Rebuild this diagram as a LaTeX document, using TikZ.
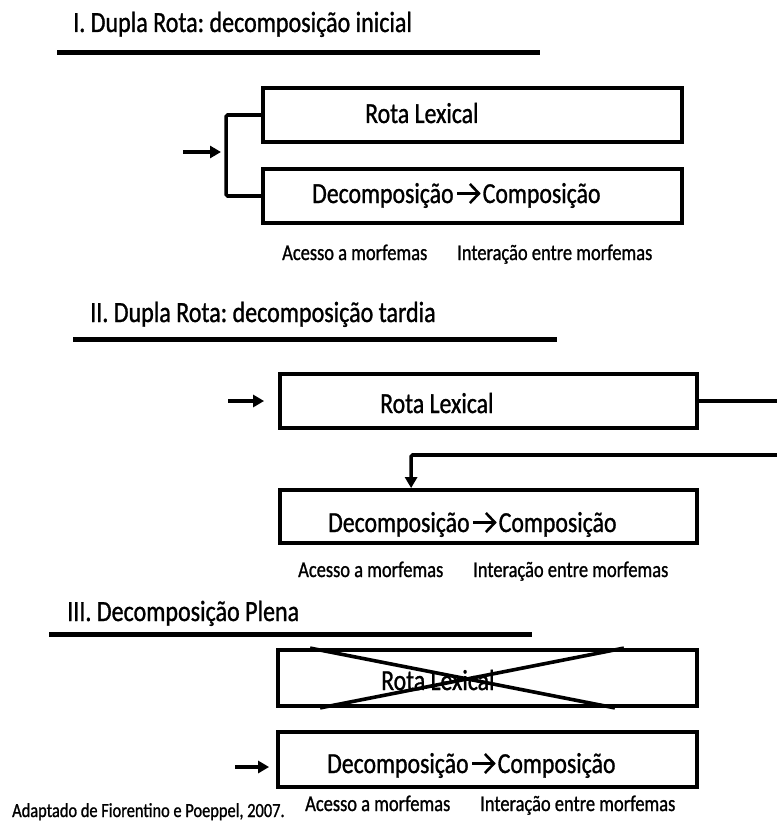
\documentclass[tikz,border=0pt]{standalone}
\usepackage{fontspec}
\setmainfont{Carlito}[FakeStretch=0.82, FakeBold=1]
\usetikzlibrary{arrows.meta,calc}
\frenchspacing

% chevron arrow used inside the box texts
\newcommand\morpharrow{\hspace{2.5pt}\tikz[baseline=-9.5pt]{%
  \draw[line width=2.6pt,line cap=butt] (0pt,0pt) -- (21pt,0pt);
  \draw[line width=2.6pt,line join=miter] (12.5pt,9.5pt) -- (21.5pt,0pt) -- (12.5pt,-9.5pt);}\hspace{2.5pt}}

\tikzset{
  box/.style={draw, line width=3.8pt, inner sep=0pt, minimum width=419, minimum height=54},
  boxtext/.style={anchor=base west, inner sep=0pt, font=\fontsize{29}{33}\selectfont},
  heading/.style={anchor=base west, inner sep=0pt, font=\fontsize{29.3}{33}\selectfont},
  note/.style={anchor=base west, inner sep=0pt, font=\fontsize{22.5}{26}\selectfont},
  credit/.style={anchor=base west, inner sep=0pt, font=\fontsize{20}{22}\selectfont},
  rule/.style={line width=5pt},
  conn/.style={line width=3.6pt, rounded corners=1.5pt},
  arr/.style={line width=3.6pt, rounded corners=1.5pt, -{Triangle[length=11pt,width=12pt]}},
  cross/.style={line width=3.6pt}
}

\begin{document}
\begin{tikzpicture}[x=1pt,y=-1pt]
\useasboundingbox (0,0) rectangle (776,821);
\fill[white] (0,0) rectangle (776,821);

% ---------- I. Dupla Rota: decomposicao inicial ----------
\node[heading] (hI) at (73,32) {I. Dupla Rota: decomposição inicial};
\coordinate (uIa) at (57,53);
\coordinate (uIb) at (540,53);
\draw[rule] (uIa) -- (uIb);

\node[box] (lexI) at (472.5,115) {};
\node[boxtext] (lexIt) at (365,123) {Rota Lexical};
\node[box] (decI) at (472.5,196) {};
\node[boxtext] (decIt) at (312,203) {Decomposição\morpharrow Composição};

\draw[conn] (lexI.west) -- ++(-35,0) |- (decI.west);
\coordinate (inI) at (183,152);
\coordinate (inIend) at (221,152);
\draw[arr] (inI) -- (inIend);

\node[note] (accI) at (282,260) {Acesso a morfemas};
\node[note] (intI) at (457,260) {Interação entre morfemas};

% ---------- II. Dupla Rota: decomposicao tardia ----------
\node[heading] (hII) at (90,322) {II. Dupla Rota: decomposição tardia};
\coordinate (uIIa) at (73,339);
\coordinate (uIIb) at (557,339);
\draw[rule] (uIIa) -- (uIIb);

\node[box, minimum width=417] (lexII) at (488.5,401) {};
\node[boxtext] (lexIIt) at (380,413) {Rota Lexical};
\node[box, minimum width=417, minimum height=53] (decII) at (488.5,516.5) {};
\node[boxtext] (decIIt) at (328,532) {Decomposição\morpharrow Composição};

\coordinate (inII) at (228,401);
\draw[arr, shorten >=14pt] (inII) -- (lexII.west);
\coordinate (outII) at (777,401);
\draw[conn] (lexII.east) -- (outII);
\coordinate (backII) at (777,455);
\draw[arr] (backII) -| ([xshift=133]decII.north west);

\node[note] (accII) at (298,577) {Acesso a morfemas};
\node[note] (intII) at (473,577) {Interação entre morfemas};

% ---------- III. Decomposicao Plena ----------
\node[heading] (hIII) at (67,621) {III. Decomposição Plena};
\coordinate (uIIIa) at (49,634);
\coordinate (uIIIb) at (532,634);
\draw[rule] (uIIIa) -- (uIIIb);

\node[box, minimum height=56] (lexIII) at (487.5,678) {};
\node[boxtext] (lexIIIt) at (381,690) {Rota Lexical};
\draw[cross] ([xshift=34]lexIII.north west) -- ([xshift=-84]lexIII.south east);
\draw[cross] ([xshift=44]lexIII.south west) -- ([xshift=-75]lexIII.north east);

\node[box, minimum height=55] (decIII) at (487.5,759.5) {};
\node[boxtext] (decIIIt) at (327,773) {Decomposição\morpharrow Composição};

\coordinate (inIII) at (235,767);
\draw[arr, shorten >=7pt] (inIII) -- (decIII.west |- inIII);

\node[note] (accIII) at (305,811) {Acesso a morfemas};
\node[note] (intIII) at (480,811) {Interação entre morfemas};

\node[credit] (src) at (12,817) {Adaptado de Fiorentino e Poeppel, 2007.};
\end{tikzpicture}
\end{document}
